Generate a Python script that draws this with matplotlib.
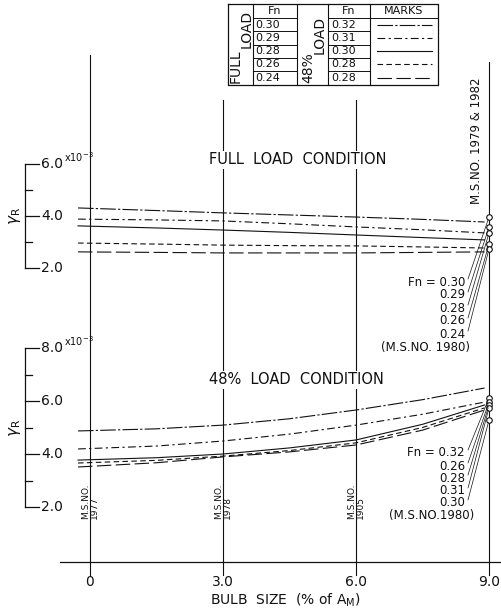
import numpy as np
import matplotlib
matplotlib.use("Agg")
import matplotlib.pyplot as plt

# bulb size (% of Am) at which the curves are read
bulb = [-0.27, 1.5, 3.0, 4.5, 6.0, 7.5, 8.9]

# full load condition, gamma_R x 10^-3
full_fn = ["0.30", "0.29", "0.28", "0.26", "0.24"]
full_030 = [4.31, 4.21, 4.12, 4.04, 3.96, 3.87, 3.77]
full_029 = [3.88, 3.85, 3.81, 3.70, 3.58, 3.47, 3.35]
full_028 = [3.62, 3.54, 3.46, 3.37, 3.27, 3.17, 3.08]
full_026 = [2.96, 2.92, 2.88, 2.86, 2.85, 2.81, 2.77]
full_024 = [2.62, 2.60, 2.58, 2.58, 2.58, 2.60, 2.62]
full_1980 = [3.96, 3.58, 3.35, 2.92, 2.73]   # M.S.No.1980 at 9.0 %

# 48 % load condition
half_fn = ["0.32", "0.31", "0.30", "0.28", "0.28"]
half_032 = [4.87, 4.95, 5.09, 5.33, 5.66, 6.05, 6.49]
half_031 = [4.19, 4.30, 4.49, 4.75, 5.09, 5.50, 5.96]
half_030 = [3.77, 3.86, 4.00, 4.23, 4.53, 5.12, 5.85]
half_028a = [3.66, 3.76, 3.92, 4.13, 4.42, 5.00, 5.74]
half_028b = [3.51, 3.67, 3.89, 4.08, 4.34, 4.90, 5.66]
half_1980_fn = ["0.32", "0.26", "0.28", "0.31", "0.30"]
half_1980 = [6.11, 5.96, 5.85, 5.74, 5.28]

bulb_ticks = [0, 3.0, 6.0, 9.0]
bulb_ticklabels = ["0", "3.0", "6.0", "9.0"]
model_nos = ["1977", "1978", "1905"]

styles = [(0, (14, 2, 2, 2)), (0, (7, 3, 2, 3)), "-", (0, (5, 3)), (0, (13, 4))]

W, H = 502, 609
PX0, PX9 = 90, 489
k = (PX9 - PX0) / 9.0
xlim = ((0 - PX0) / k, (W - PX0) / k)

plt.rcParams["font.family"] = "DejaVu Sans"

fig = plt.figure(figsize=(W / 100, H / 100), dpi=100)
fig.patch.set_facecolor("white")


def overlay(ylim, xl=xlim):
    ax = fig.add_axes([0, 0, 1, 1])
    ax.set_xlim(*xl)
    ax.set_ylim(*ylim)
    ax.patch.set_alpha(0)
    ax.axis("off")
    return ax


# y value -> pixel row: v = v0 + (p0 - py) / s
def vlim(p0, v0, s):
    return (v0 + (p0 - H) / s, v0 + p0 / s)


ax_grid = overlay((H, 0))
ax_top = overlay(vlim(268, 2.0, 26.0))
ax_bot = overlay(vlim(507, 2.0, 26.5))
ax_px = overlay((H, 0), (0, W))

ink = "#111111"
lw = 0.8

# vertical reference lines and base line
tops = [55, 100, 100, 62]
for xv, t in zip(bulb_ticks, tops):
    ax_grid.plot([xv, xv], [t, 575], color=ink, lw=0.8)
ax_grid.plot([xlim[0] + 60 / k, xlim[1]], [562, 562], color=ink, lw=0.9)
for xv, lab in zip(bulb_ticks, bulb_ticklabels):
    ax_grid.text(xv, 582, lab, ha="center", va="center", fontsize=10, color=ink)
ax_px.text(285, 600, "BULB  SIZE  (% of A$_{\\mathregular{M}}$)", ha="center", va="center",
           fontsize=10, color=ink)

# model numbers along the verticals
for xv, no in zip(bulb_ticks[:3], model_nos):
    ax_grid.text(xv, 519, "M.S.NO.\n" + no, rotation=90, ha="center", va="bottom",
                 fontsize=6.5, color=ink, multialignment="left", linespacing=1.0)
ax_grid.text(9.0 - 0.13, 204, "M.S.NO. 1979 & 1982", rotation=90, ha="right", va="bottom",
             fontsize=8.5, color=ink)

# curves
for ys, ls in zip([full_030, full_029, full_028, full_026, full_024], styles):
    ax_top.plot(bulb, ys, color=ink, lw=lw, ls=ls)
for ys, ls in zip([half_032, half_031, half_030, half_028a, half_028b], styles):
    ax_bot.plot(bulb, ys, color=ink, lw=lw, ls=ls)
ax_top.plot([9.0] * len(full_1980), full_1980, "o", ms=4, mfc="white", mec=ink, mew=0.8)
ax_bot.plot([9.0] * len(half_1980), half_1980, "o", ms=4, mfc="white", mec=ink, mew=0.8)

# labels pointing at the M.S.No.1980 points
full_rows = [282, 295, 308, 321, 334]
for i, (fn, v, py) in enumerate(zip(full_fn, full_1980, full_rows)):
    s = ("Fn = " if i == 0 else "") + fn
    ax_px.text(465, py, s, ha="right", va="center", fontsize=8.5, color=ink)
    ax_px.annotate("", xy=(9.0, v), xycoords=ax_top.transData, xytext=(468, py - 3),
                   textcoords=ax_px.transData,
                   arrowprops=dict(arrowstyle="-", lw=0.5, color=ink, shrinkA=0, shrinkB=2))
ax_px.text(470, 347, "(M.S.NO. 1980)", ha="right", va="center", fontsize=8.5, color=ink)

half_rows = [453, 466, 478, 491, 503]
for i, (fn, v, py) in enumerate(zip(half_1980_fn, half_1980, half_rows)):
    s = ("Fn = " if i == 0 else "") + fn
    ax_px.text(465, py, s, ha="right", va="center", fontsize=8.5, color=ink)
    ax_px.annotate("", xy=(9.0, v), xycoords=ax_bot.transData, xytext=(468, py - 3),
                   textcoords=ax_px.transData,
                   arrowprops=dict(arrowstyle="-", lw=0.5, color=ink, shrinkA=0, shrinkB=2))
ax_px.text(474, 515, "(M.S.NO.1980)", ha="right", va="center", fontsize=8.5, color=ink)

# panel titles
ax_px.text(298, 160, "FULL  LOAD  CONDITION", ha="center", va="center", fontsize=10.5,
           color=ink, bbox=dict(fc="white", ec="none", pad=1))
ax_px.text(296, 380, "48%  LOAD  CONDITION", ha="center", va="center", fontsize=10.5,
           color=ink, bbox=dict(fc="white", ec="none", pad=1))


# gamma_R scales on the left
def scale(ax, lo, hi, labels, p_lab):
    sx = xlim[0] + 25 / k
    ax.plot([sx, sx], [lo, hi], color=ink, lw=0.9)
    for v in np.arange(lo, hi + 0.01, 1.0):
        major = v in labels
        ax.plot([sx, sx + (14 if major else 7) / k], [v, v], color=ink, lw=0.9)
        if major:
            ax.text(sx + 16 / k, v, f"{v:.1f}", ha="left", va="center", fontsize=10, color=ink)
    ax.text(sx + 39 / k, hi + 0.25, "x10$^{-3}$", ha="left", va="center", fontsize=7, color=ink)
    ax.text(sx - 10 / k, p_lab, "$\\gamma_{\\mathregular{R}}$", rotation=90, ha="center",
            va="center", fontsize=11, color=ink)


scale(ax_top, 2.0, 6.0, [2.0, 4.0, 6.0], 4.0)
scale(ax_bot, 2.0, 8.0, [2.0, 4.0, 6.0, 8.0], 5.0)

# key table
L, R, T, B = 228, 438, 4, 85
cols = [253, 297, 328, 370]
rows = [18, 31, 45, 58, 71]
ax_px.plot([L, R, R, L, L], [T, T, B, B, T], color=ink, lw=0.9)
for c in cols:
    ax_px.plot([c, c], [T, B], color=ink, lw=0.8)
for r in rows:
    ax_px.plot([cols[0], cols[1]], [r, r], color=ink, lw=0.7)
    ax_px.plot([cols[2], cols[3]], [r, r], color=ink, lw=0.7)
ax_px.plot([cols[3], R], [rows[0], rows[0]], color=ink, lw=0.7)
ax_px.text(275, 11, "Fn", ha="center", va="center", fontsize=8, color=ink)
ax_px.text(349, 11, "Fn", ha="center", va="center", fontsize=8, color=ink)
ax_px.text(404, 11, "MARKS", ha="center", va="center", fontsize=8, color=ink)
ax_px.text(236, 83, "FULL", rotation=90, ha="center", va="bottom", fontsize=10, color=ink)
ax_px.text(247, 48, "LOAD", rotation=90, ha="center", va="bottom", fontsize=10, color=ink)
ax_px.text(308, 83, "48%", rotation=90, ha="center", va="bottom", fontsize=10, color=ink)
ax_px.text(320, 54, "LOAD", rotation=90, ha="center", va="bottom", fontsize=10, color=ink)
centers = [25, 38, 51, 64, 78]
for fa, fb, ls, cy in zip(full_fn, half_fn, styles, centers):
    ax_px.text(255, cy, fa, ha="left", va="center", fontsize=8, color=ink)
    ax_px.text(331, cy, fb, ha="left", va="center", fontsize=8, color=ink)
    ax_px.plot([377, 432], [cy, cy], color=ink, lw=0.8, ls=ls)

fig.savefig("out.png", dpi=100, facecolor="white")
